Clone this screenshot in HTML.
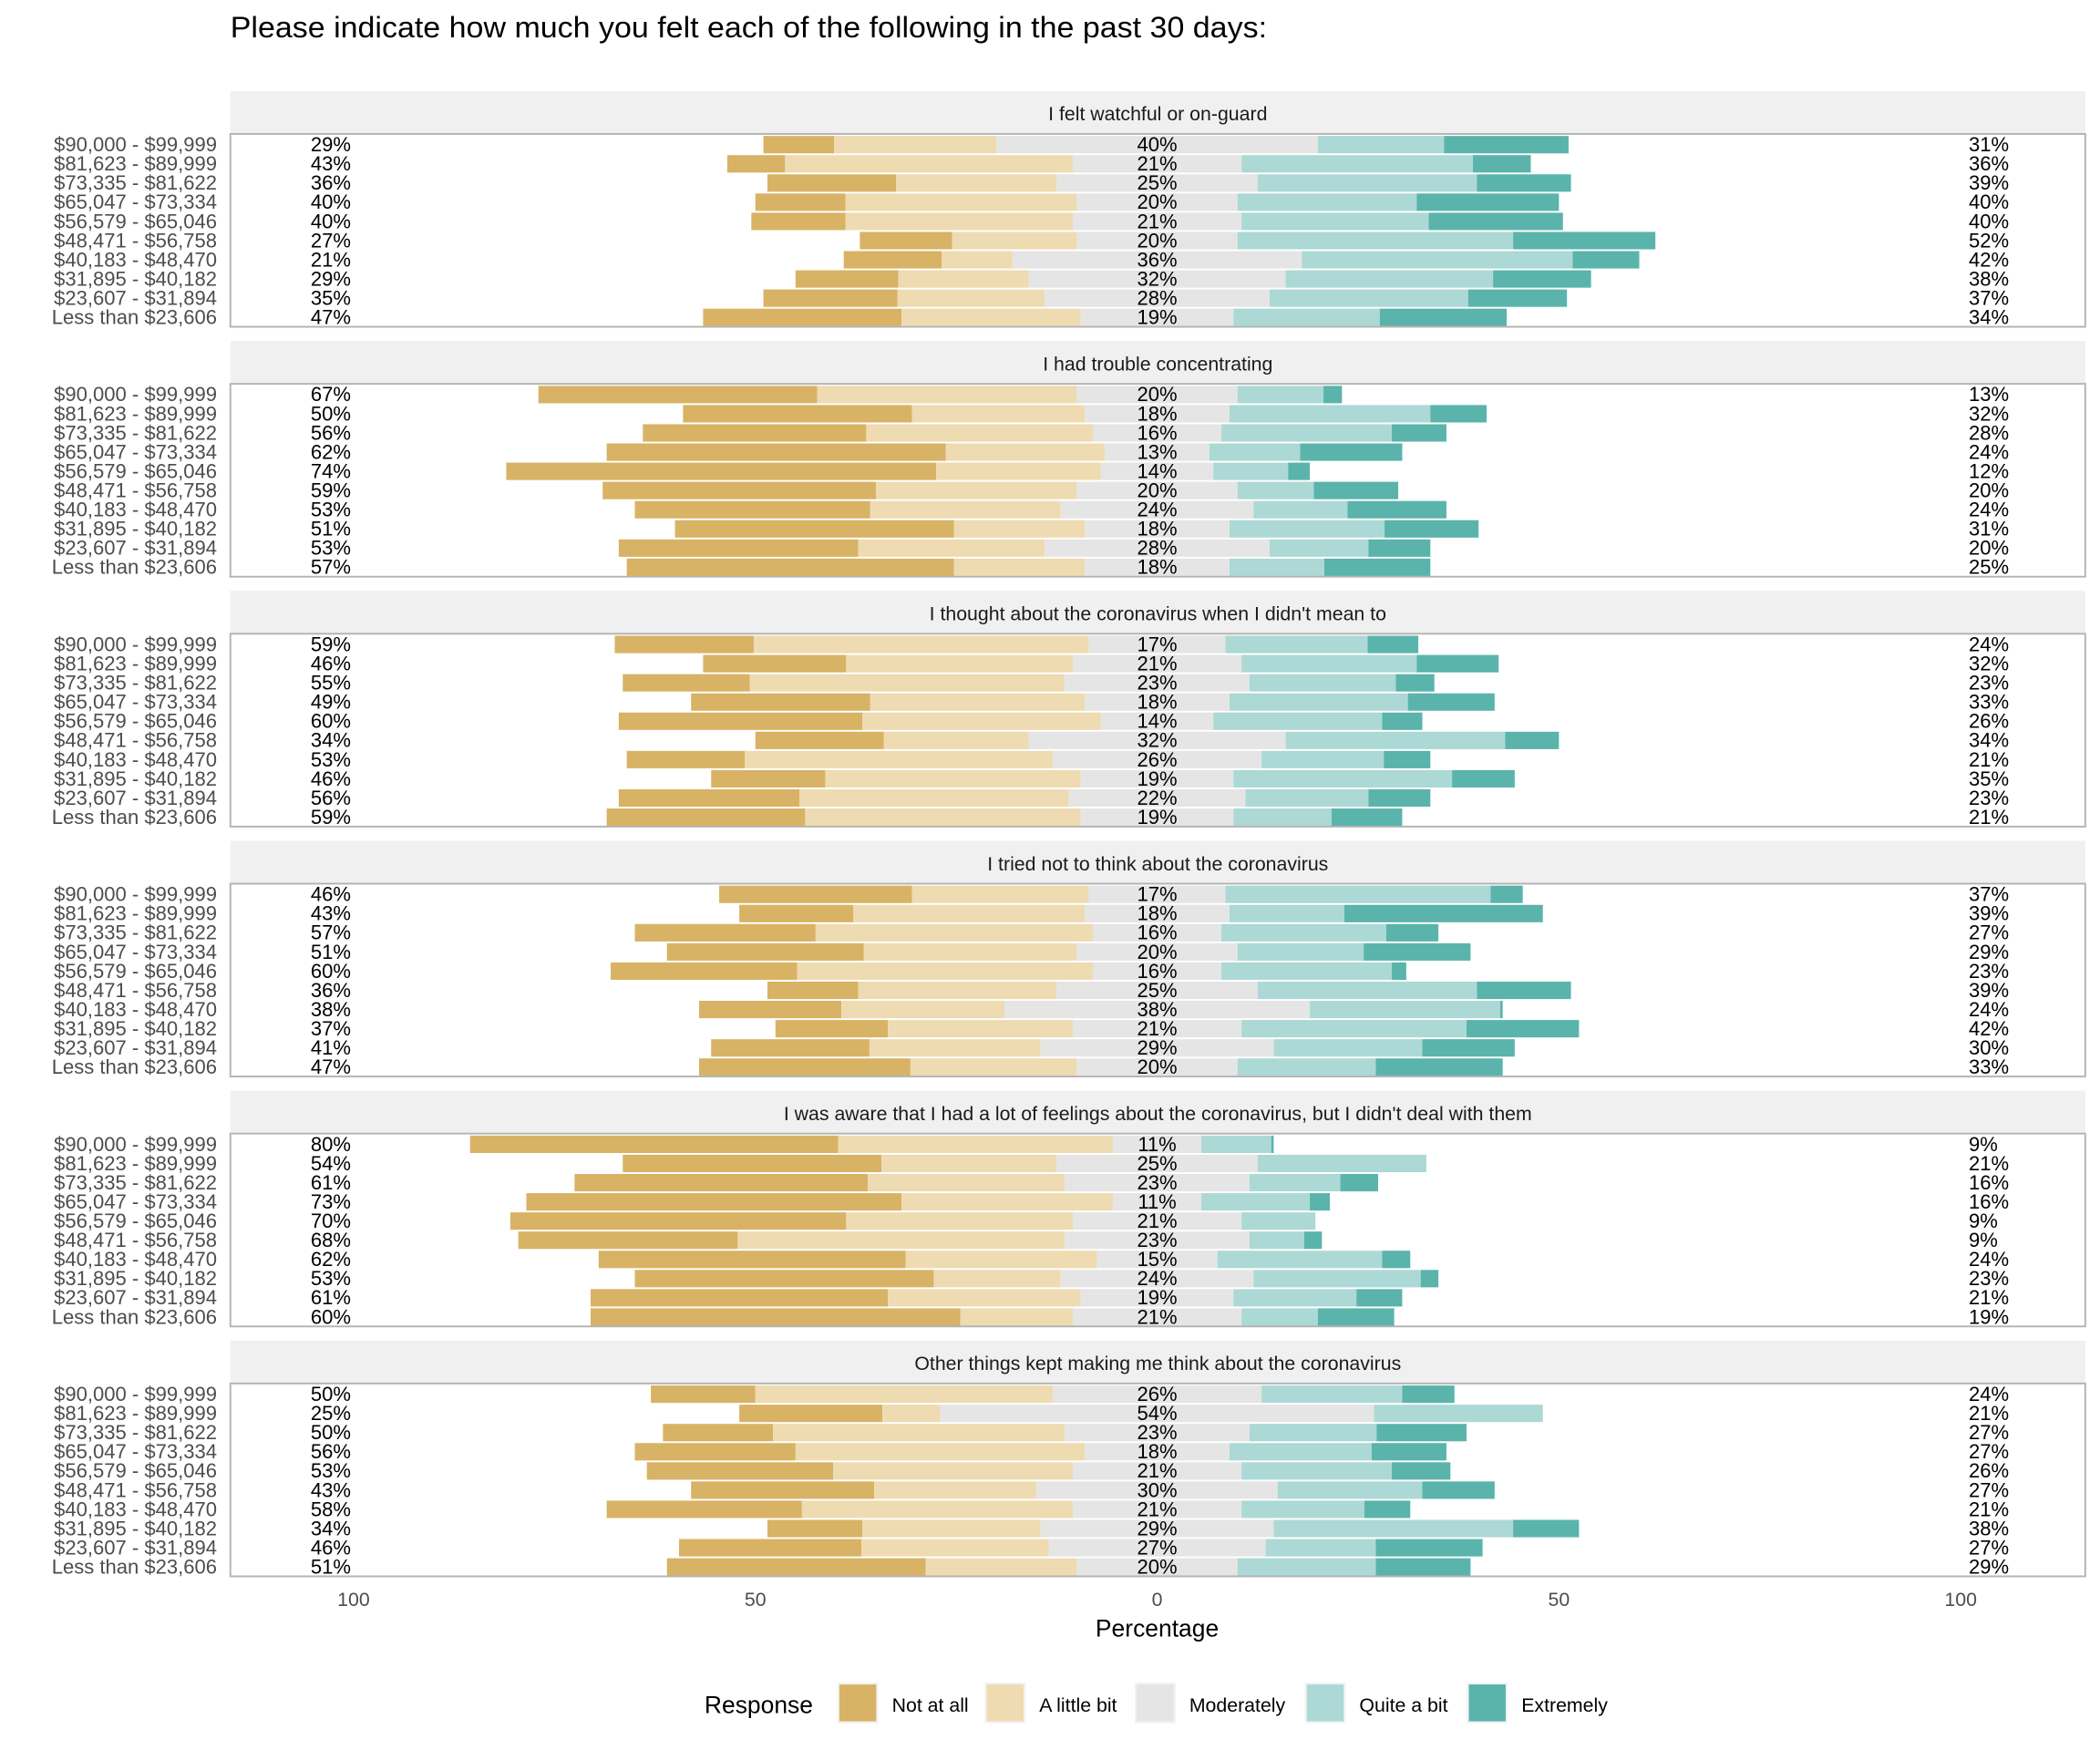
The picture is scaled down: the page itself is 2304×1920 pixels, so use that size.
<!DOCTYPE html>
<html><head><meta charset="utf-8">
<style>
html,body{margin:0;padding:0;background:#fff;}
svg{display:block;font-family:"Liberation Sans",Arial,sans-serif;}
</style></head>
<body>
<svg id="chart" width="2304" height="1920" viewBox="0 0 1568 1306.67" xmlns="http://www.w3.org/2000/svg">
<text x="172" y="28" font-size="22" textLength="774" lengthAdjust="spacingAndGlyphs" fill="#000">Please indicate how much you felt each of the following in the past 30 days:</text>
<g id="panels"></g>
<g id="xaxis"></g>
<text x="864" y="1222" font-size="18" text-anchor="middle" fill="#000">Percentage</text>
<g id="legend"></g>
</svg>
<script>
const panelTitles = ["I felt watchful or on-guard","I had trouble concentrating","I thought about the coronavirus when I didn't mean to","I tried not to think about the coronavirus","I was aware that I had a lot of feelings about the coronavirus, but I didn't deal with them","Other things kept making me think about the coronavirus"];
const categories = ["$90,000 - $99,999","$81,623 - $89,999","$73,335 - $81,622","$65,047 - $73,334","$56,579 - $65,046","$48,471 - $56,758","$40,183 - $48,470","$31,895 - $40,182","$23,607 - $31,894","Less than $23,606"];
const responses = ["Not at all","A little bit","Moderately","Quite a bit","Extremely"];
const xTicks = [-100,-50,0,50,100];
const xTickLabels = ["100","50","0","50","100"];
const notAtAll = [
[8.8,7.2,16,11.2,11.7,11.5,12.2,12.8,16.7,24.7],
[34.7,28.5,27.8,42.2,53.5,34,29.3,34.7,29.8,40.7],
[17.3,17.8,15.8,22.3,30.3,16,14.7,14.2,22.5,24.7],
[24,14.2,22.5,24.5,23.2,11.3,17.7,14,19.7,26.3],
[45.8,32.2,36.5,46.7,41.8,27.3,38.2,37.2,37,46],
[13,17.8,13.7,20,23.2,22.8,24.3,11.8,22.7,32.2]];
const littleBit = [
[20.2,35.8,20,28.8,28.3,15.5,8.8,16.2,18.3,22.3],
[32.3,21.5,28.2,19.8,20.5,25,23.7,16.3,23.2,16.3],
[41.7,28.2,39.2,26.7,29.7,18,38.3,31.8,33.5,34.3],
[22,28.8,34.5,26.5,36.8,24.7,20.3,23,21.3,20.7],
[34.2,21.8,24.5,26.3,28.2,40.7,23.8,15.8,24,14],
[37,7.2,36.3,36,29.8,20.2,33.7,22.2,23.3,18.8]];
const moderately = [
[40,21,25,20,21,20,36,32,28,19],
[20,18,16,13,14,20,24,18,28,18],
[17,21,23,18,14,32,26,19,22,19],
[17,18,16,20,16,25,38,21,29,20],
[11,25,23,11,21,23,15,24,19,21],
[26,54,23,18,21,30,21,29,27,20]];
const quiteABit = [
[15.7,28.8,27.3,22.3,23.3,34.3,33.7,25.8,24.7,18.2],
[10.7,25,21.2,11.3,9.3,9.5,11.7,19.3,12.3,11.8],
[17.7,21.8,18.2,22.2,21,27.3,15.2,27.2,15.3,12.2],
[33,14.3,20.5,15.7,21.2,27.3,23.7,28,18.5,17.2],
[8.7,21,11.3,13.5,9.2,6.8,20.5,20.8,15.3,9.5],
[17.5,21,15.8,17.7,18.7,18,15.3,29.8,13.7,17.2]];
const extremely = [
[15.5,7.2,11.7,17.7,16.7,17.7,8.3,12.2,12.3,15.8],
[2.3,7,6.8,12.7,2.7,10.5,12.3,11.7,7.7,13.2],
[6.3,10.2,4.8,10.8,5,6.7,5.8,7.8,7.7,8.8],
[4,24.7,6.5,13.3,1.8,11.7,0.3,14,11.5,15.8],
[0.3,0,4.7,2.5,0,2.2,3.5,2.2,5.7,9.5],
[6.5,0,11.2,9.3,7.3,9,5.7,8.2,13.3,11.8]];

const colors = ["#d8b365","#efdbb1","#e5e5e5","#acd9d5","#5ab4ac"];
const NS = "http://www.w3.org/2000/svg";
const plotL = 172, plotR = 1557;
function xScale(v){ return 864 + v*6; }
const panelTop0 = 68, panelStep = 186.6, stripH = 32, plotH = 144, rowStep = 14.33, barH = 13;
function mk(tag, attrs, parent){ const e=document.createElementNS(NS,tag); for(const k in attrs) e.setAttribute(k,attrs[k]); parent.appendChild(e); return e; }
const panelsG = document.getElementById("panels");
panelTitles.forEach((title,p)=>{
  const top = panelTop0 + p*panelStep;
  const g = mk("g",{},panelsG);
  
  
  const strip = mk("rect",{x:plotL,y:top,width:plotR-plotL,height:stripH,fill:"#f0f0f0"},g);
  
  
  const st = mk("text",{x:(plotL+plotR)/2,y:top+22,"font-size":14.5,"text-anchor":"middle",fill:"#1a1a1a"},g);
  st.textContent = title;
  
  
  const pTop = top+stripH;
  categories.forEach((cat,i)=>{
    const cy = pTop + 8 + i*rowStep;
    const vals = [notAtAll[p][i],littleBit[p][i],moderately[p][i],quiteABit[p][i],extremely[p][i]];
    const half = vals[2]/2;
    const segs = [
      [-(half+vals[1]+vals[0]), -(half+vals[1])],
      [-(half+vals[1]), -half],
      [-half, half],
      [half, half+vals[3]],
      [half+vals[3], half+vals[3]+vals[4]]];
    segs.forEach((s,k)=>{
      const r = mk("rect",{x:xScale(s[0]),y:cy-barH/2,width:Math.max(0,xScale(s[1])-xScale(s[0])),height:barH,fill:colors[k]},g);
      
      
    });
    const lab = mk("text",{x:162,y:cy+5,"font-size":15,"text-anchor":"end",fill:"#4d4d4d"},g);
    lab.textContent = cat;
    
    
    const lp = mk("text",{x:232,y:cy+5,"font-size":15,fill:"#000"},g);
    lp.textContent = Math.round(vals[0]+vals[1])+"%";
    
    
    const mp = mk("text",{x:864,y:cy+5,"font-size":15,"text-anchor":"middle",fill:"#000"},g);
    mp.textContent = Math.round(vals[2])+"%";
    
    
    const rp = mk("text",{x:1470,y:cy+5,"font-size":15,fill:"#000"},g);
    rp.textContent = Math.round(vals[3]+vals[4])+"%";
    
    
  });
  const border = mk("rect",{x:plotL,y:pTop,width:plotR-plotL,height:plotH,fill:"none",stroke:"#b3b3b3","stroke-width":1.3},g);
  
  
});
const xa = document.getElementById("xaxis");
xTicks.forEach((t,i)=>{
  const tx = mk("text",{x:xScale(t),y:1199,"font-size":14.5,"text-anchor":"middle",fill:"#4d4d4d"},xa);
  tx.textContent = xTickLabels[i];
  
  
});
const lg = document.getElementById("legend");
const lt = mk("text",{x:526,y:1279,"font-size":18,fill:"#000"},lg);
lt.textContent = "Response";


const keyX = [626,736,848,975,1096];
responses.forEach((r,k)=>{
  const key = mk("rect",{x:keyX[k],y:1257,width:29,height:29,fill:colors[k],stroke:"#f2f2f2","stroke-width":1.5},lg);
  
  
  const t = mk("text",{x:keyX[k]+40,y:1278,"font-size":14.5,fill:"#000"},lg);
  t.textContent = r;
  
  
});
</script>
</body></html>
